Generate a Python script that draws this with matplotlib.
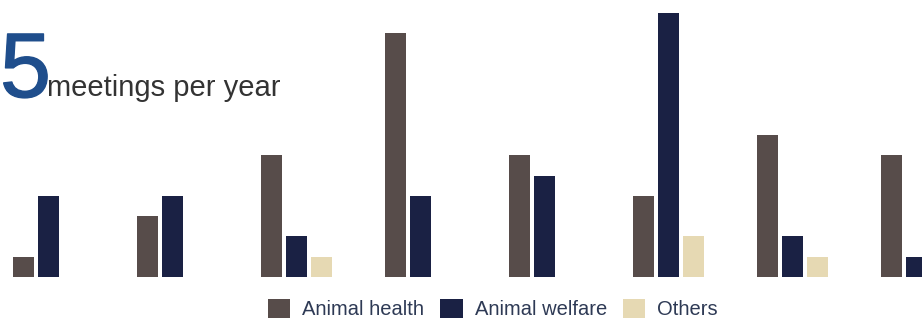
import numpy as np
import matplotlib.pyplot as plt
import matplotlib.patheffects as pe
from matplotlib.patches import Patch

# meetings per topic, 8 groups (last one cut off at right edge)
groups = np.arange(8)
animal_health = [1, 3, 6, 12, 6, 4, 7, 6]
animal_welfare = [4, 4, 2, 4, 5, 13, 2, 1]
others = [0, 0, 1, 0, 0, 2, 1, 0]
series_names = ['Animal health', 'Animal welfare', 'Others']
colors = ['#574c4a', '#1a2144', '#e6d9b3']

plt.rcParams['font.family'] = ['Liberation Sans', 'DejaVu Sans']

fig = plt.figure(figsize=(9.22, 3.22), dpi=100)
ax = fig.add_axes([0, 45 / 322, 1, 277 / 322])

pitch = 0.2
width = 0.17
for k, vals in enumerate([animal_health, animal_welfare, others]):
    ax.bar(groups + (k - 1) * pitch, vals, width=width, color=colors[k],
           edgecolor='none')

ax.set_xlim(-48.5 / 124, (922 - 48.5) / 124)
ax.set_ylim(0, 277 / 20.3)
ax.axis('off')

# headline - the big digit is a bit heavier than regular weight
fig.text(0, 322 - 97, '5', transform=None, fontsize=66, color='#1f4e8c',
         va='baseline', ha='left',
         path_effects=[pe.withStroke(linewidth=1, foreground='#1f4e8c')])
fig.text(47, 322 - 96, 'meetings per year', transform=None, fontsize=21,
         color='#333333', va='baseline', ha='left')

handles = [Patch(facecolor=c, edgecolor='none') for c in colors]
fig.legend(handles, series_names, ncol=3, loc='center',
           bbox_to_anchor=(493 / 922, 13 / 322), frameon=False, fontsize=14.5,
           handlelength=1.1, handleheight=1.1, handletextpad=0.6,
           columnspacing=0.8, labelcolor='#2e3a55', borderpad=0)

fig.savefig('out.png', dpi=100)
